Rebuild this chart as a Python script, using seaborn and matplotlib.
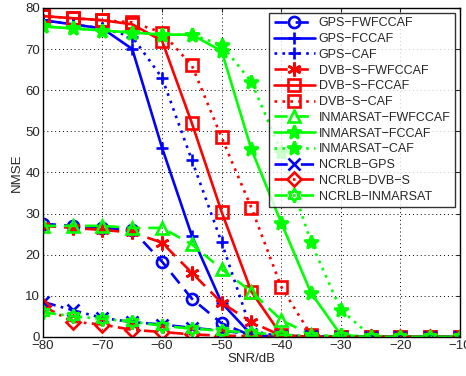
import numpy as np
import pandas as pd
import matplotlib
matplotlib.use("Agg")
import matplotlib.pyplot as plt
import seaborn as sns

sns.set_style("white")
plt.rcParams['font.family'] = ['Liberation Sans', 'DejaVu Sans']

snr = [-80, -75, -70, -65, -60, -55, -50, -45, -40, -35, -30, -25, -20, -15, -10]

gps_fwfccaf = [27.5, 27, 26.5, 26, 18.3, 9.3, 3.3, 0.3, 0, 0, 0, 0, 0, 0, 0]
gps_fccaf = [77, 76, 75, 70, 46, 24.6, 8.3, 0.5, 0, 0, 0, 0, 0, 0, 0]
gps_caf = [77, 76, 75, 73, 63, 43, 23, 1.5, 0, 0, 0, 0, 0, 0, 0]
dvb_fwfccaf = [27, 26.5, 26, 25.4, 22.9, 15.6, 8.3, 3.6, 0.3, 0, 0, 0, 0, 0, 0]
dvb_fccaf = [78, 77.5, 77, 76, 72, 52, 30.4, 11, 0.5, 0, 0, 0, 0, 0, 0]
dvb_caf = [78, 77.5, 77, 76.5, 74, 66, 48.5, 31.4, 12.2, 0.5, 0, 0, 0, 0, 0]
inm_fwfccaf = [27, 27, 27, 26.5, 26.5, 22.5, 16.5, 11, 4.1, 0.5, 0, 0, 0, 0, 0]
inm_fccaf = [75.5, 75, 74.5, 74, 73.5, 73.5, 69.5, 45.6, 27.8, 10.7, 0.5, 0, 0, 0, 0]
inm_caf = [75.5, 75, 74.5, 74, 73.5, 73.5, 71, 62, 45, 23, 6.6, 0.3, 0, 0, 0]
ncrlb_gps = [8.5, 6.5, 4.6, 3.6, 3, 2.2, 1.5, 0.7, 0.3, 0.1, 0, 0, 0, 0, 0]
ncrlb_dvb = [7.5, 3.7, 3, 1.7, 1.2, 0.6, 0.3, 0.2, 0.1, 0, 0, 0, 0, 0, 0]
ncrlb_inm = [6, 5, 4.4, 3.7, 2.7, 2, 1.5, 1, 0.5, 0.3, 0.1, 0, 0, 0, 0]

asterisk = (6, 2, 0)
hexagram = (6, 1, 0)

series = [
    ("GPS\u2212FWFCCAF", gps_fwfccaf, "blue", (0, (5, 3)), "o", "none"),
    ("GPS\u2212FCCAF", gps_fccaf, "blue", "-", "+", "blue"),
    ("GPS\u2212CAF", gps_caf, "blue", (0, (1, 2)), "+", "blue"),
    ("DVB\u2212S\u2212FWFCCAF", dvb_fwfccaf, "red", (0, (5, 3)), asterisk, "red"),
    ("DVB\u2212S\u2212FCCAF", dvb_fccaf, "red", "-", "s", "none"),
    ("DVB\u2212S\u2212CAF", dvb_caf, "red", (0, (1, 2)), "s", "none"),
    ("INMARSAT\u2212FWFCCAF", inm_fwfccaf, "lime", (0, (5, 3)), "^", "none"),
    ("INMARSAT\u2212FCCAF", inm_fccaf, "lime", "-", "*", "lime"),
    ("INMARSAT\u2212CAF", inm_caf, "lime", (0, (1, 2)), "*", "lime"),
    ("NCRLB\u2212GPS", ncrlb_gps, "blue", (0, (5, 2, 1, 2)), "x", "blue"),
    ("NCRLB\u2212DVB\u2212S", ncrlb_dvb, "red", (0, (5, 2, 1, 2)), "D", "none"),
    ("NCRLB\u2212INMARSAT", ncrlb_inm, "lime", (0, (5, 2, 1, 2)), hexagram, "none"),
]

fig = plt.figure(figsize=(4.66, 3.76), dpi=100)
ax = fig.add_axes([0.092, 0.104, 0.895, 0.875])

for name, vals, col, ls, mk, mfc in series:
    ms = 10 if mk in ("*", asterisk, hexagram) else 8
    if mk == "D":
        ms = 7
    sns.lineplot(x=snr, y=vals, ax=ax, color=col, linestyle=ls, marker=mk,
                 markersize=ms, markerfacecolor=mfc, markeredgecolor=col,
                 markeredgewidth=1.9, linewidth=1.9, label=name)

ax.set_xlim(-80, -10)
ax.set_ylim(0, 80)
ax.set_xticks(range(-80, -9, 10))
ax.set_yticks(range(0, 81, 10))
ax.tick_params(direction="in", labelsize=9.5, length=3, top=True, right=True, pad=2)
ax.grid(True, linestyle=(0, (1, 3)), color="black", linewidth=0.7)
for s in ax.spines.values():
    s.set_color("black")
    s.set_linewidth(1.0)
ax.set_xlabel("SNR/dB", fontsize=9.5, labelpad=1)
ax.set_ylabel("NMSE", fontsize=9.5, labelpad=2)

leg = ax.legend(loc="upper right", fontsize=9, handlelength=3.3, frameon=True,
                fancybox=False, edgecolor="black", borderpad=0.35,
                labelspacing=0.3, handletextpad=0.3, borderaxespad=0.4)
leg.get_frame().set_linewidth(1.0)

fig.savefig("out.png", dpi=100)
